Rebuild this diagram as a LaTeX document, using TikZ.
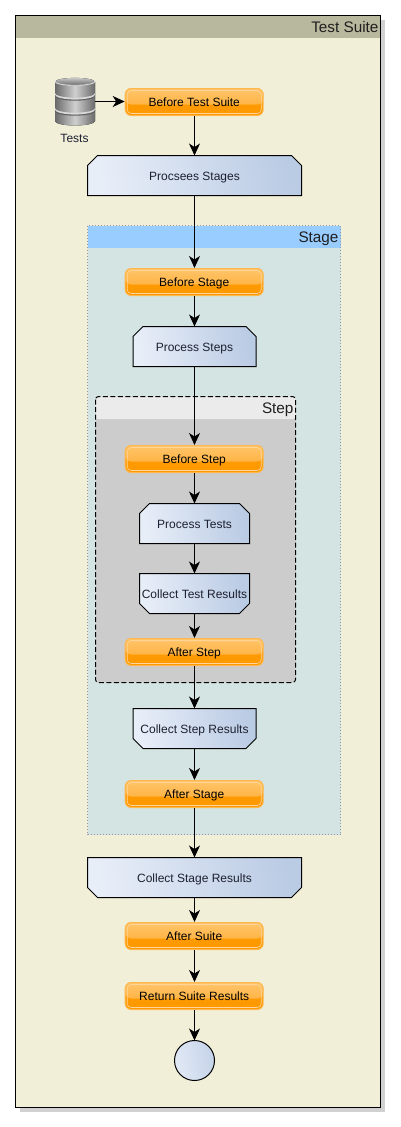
\documentclass[tikz,border=0pt]{standalone}
\usepackage{fontspec}
\setmainfont{Liberation Sans}
\usetikzlibrary{arrows.meta,calc}
\definecolor{suitebg}{HTML}{F2EFD9}
\definecolor{suitehd}{HTML}{B8B89F}
\definecolor{stagebg}{HTML}{D4E4E2}
\definecolor{stagehd}{HTML}{99CCFF}
\definecolor{stephd}{HTML}{EBEBEB}
\definecolor{stepbg}{HTML}{CCCCCC}
\definecolor{orangemain}{HTML}{FF9900}
\definecolor{orangeline}{HTML}{FFB84D}
\definecolor{orangetop}{HTML}{FFC46B}
\definecolor{orangemid}{HTML}{FFAA2B}
\definecolor{orangein}{HTML}{FFD59A}
\definecolor{blueL}{HTML}{E8EEF8}
\definecolor{blueR}{HTML}{BACBE4}
\definecolor{dbdark}{HTML}{6A6A6A}
\definecolor{dblight}{HTML}{CFCFCF}
\definecolor{inkc}{HTML}{1C2030}
\definecolor{dotc}{HTML}{8F98A8}
\tikzset{
  x=1pt,y=-1pt,
  lbl/.style={font=\fontsize{12}{14}\selectfont,text=inkc},
  glass/.style={rounded corners=6pt,minimum width=138pt,minimum height=27pt,inner sep=0pt,outer sep=.5pt,
    draw=orangeline,line width=1pt,fill=orangemain,font=\fontsize{12}{14}\selectfont,text=black,
    text height=11pt,text depth=3pt,
    path picture={
      \fill[top color=orangetop,bottom color=orangemid]
        (path picture bounding box.north west) rectangle ($(path picture bounding box.east)+(0,2.5)$);
      \draw[orangein,line width=.6pt,rounded corners=4pt]
        ($(path picture bounding box.north west)+(2,2)$) rectangle ($(path picture bounding box.south east)+(-2,-2)$);
    }},
  chamfshape/.style={draw=black,line width=1pt,left color=blueL,right color=blueR,shading angle=100},
  chamftext/.style={lbl,rectangle,minimum height=40pt,inner sep=0pt,outer sep=0pt,text height=12pt,text depth=3pt},
  flow/.style={draw=black,line width=1pt,-{Stealth[length=12pt,width=11pt,inset=3.5pt]}},
  title/.style={font=\fontsize{15.3}{17}\selectfont,text=black!88,anchor=east,inner sep=0pt,outer sep=0pt,text height=14pt,text depth=3pt},
}
% name, x, y, width, text
\newcommand\chamftop[5]{\begin{scope}[shift={(#2,#3)}]
  \pgfmathsetmacro\hw{#4/2}\pgfmathsetmacro\hi{#4/2-10}
  \path[chamfshape] (-\hw,20) -- (-\hw,-10) -- (-\hi,-20) -- (\hi,-20) -- (\hw,-10) -- (\hw,20) -- cycle;
  \node[chamftext,minimum width=#4pt] (#1) at (0,0) {#5};
\end{scope}}
\newcommand\chambot[5]{\begin{scope}[shift={(#2,#3)}]
  \pgfmathsetmacro\hw{#4/2}\pgfmathsetmacro\hi{#4/2-10}
  \path[chamfshape] (-\hw,-20) -- (-\hw,10) -- (-\hi,20) -- (\hi,20) -- (\hw,10) -- (\hw,-20) -- cycle;
  \node[chamftext,minimum width=#4pt] (#1) at (0,0) {#5};
\end{scope}}
\begin{document}
\begin{tikzpicture}[x=1pt,y=-1pt]
\useasboundingbox (0,0) rectangle (400,1127);
% suite
\fill[black!18] (19.5,19.5) rectangle (384.5,1111.5);
\fill[suitebg] (15.5,15.5) rectangle (380.5,1107.5);
\fill[suitehd] (15.5,15.5) rectangle (380.5,37.5);
\draw[black,line width=1pt] (15.5,15.5) rectangle (380.5,1107.5);
\node[title] (suitetitle) at (378.5,26.5) {Test Suite};
% stage
\fill[stagebg] (87.5,225.5) rectangle (340.5,834.5);
\fill[stagehd] (87.5,225.5) rectangle (340.5,247.5);
\draw[dotc,line width=.7pt,dash pattern=on 1pt off 2pt] (87.5,225.5) rectangle (340.5,834.5);
\node[title] (stagetitle) at (338.5,236.5) {Stage};
% step
\fill[stepbg,rounded corners=3pt] (95.5,396.5) rectangle (295.5,682.5);
\fill[stephd,rounded corners=3pt] (95.5,419) -- (95.5,396.5) -- (295.5,396.5) -- (295.5,419) [sharp corners] -- cycle;
\draw[black,line width=1pt,dash pattern=on 5pt off 2.5pt,rounded corners=3pt] (95.5,396.5) rectangle (295.5,682.5);
\node[title] (steptitle) at (293.5,408) {Step};
% database
\fill[left color=dbdark,right color=dbdark,middle color=dblight]
  (55,82) -- (55,121) arc[start angle=180,end angle=360,x radius=20,y radius=-4.5] -- (95,82) -- cycle;
\foreach \yy in {95,110}{
  \fill[white!85!black] (55,\yy) arc[start angle=180,end angle=360,x radius=20,y radius=-4.5]
     -- (95,\yy-1.8) arc[start angle=360,end angle=180,x radius=20,y radius=-4.5] -- cycle;
  \fill[black!62] (55,\yy+.1) arc[start angle=180,end angle=360,x radius=20,y radius=-4.5]
     -- (95,\yy+1.2) arc[start angle=360,end angle=180,x radius=20,y radius=-4.5] -- cycle;
}
\fill[top color=black!22,bottom color=black!58] (75,81.5) ellipse[x radius=19.5,y radius=3.6];
\draw[black!14,line width=.9pt] (55,81.5) arc[start angle=180,end angle=360,x radius=20,y radius=-3.8];
\coordinate (dbport) at (95,101.5);
\node[lbl,inner sep=0pt,text height=10pt,text depth=3pt] (dblabel) at (74.5,139) {Tests};
% nodes
\node[glass] (n1) at (194.2,102) {Before Test Suite};
\chamftop{n2}{194.5}{175.5}{214}{Procsees Stages}
\node[glass] (n3) at (194.2,282) {Before Stage};
\chamftop{n4}{194.5}{346.5}{123}{Process Steps}
\node[glass] (n5) at (194.2,459) {Before Step};
\chamftop{n6}{194.5}{523.5}{110}{Process Tests}
\chambot{n7}{194.5}{593.5}{110}{Collect Test Results}
\node[glass] (n8) at (194.2,652) {After Step};
\chambot{n9}{194.5}{728.5}{123}{Collect Step Results}
\node[glass] (n10) at (194.2,794) {After Stage};
\chambot{n11}{194.5}{877.5}{214}{Collect Stage Results}
\node[glass] (n12) at (194.2,936) {After Suite};
\node[glass] (n13) at (194.2,996) {Return Suite Results};
\node[circle,minimum size=40pt,inner sep=0pt,outer sep=0pt,draw=black,line width=1pt,left color=blueL!85!blueR,right color=blueR!75!blueL,shading angle=100] (n14) at (194.5,1060.5) {};
% connectors
\draw[flow] (dbport) -- (dbport -| n1.west);
\foreach \a/\b in {n1/n2,n2/n3,n3/n4,n4/n5,n5/n6,n6/n7,n7/n8,n8/n9,n9/n10,n10/n11,n11/n12,n12/n13,n13/n14}
  \draw[flow] (\a.south -| n14.center) -- (\b.north -| n14.center);
\end{tikzpicture}
\end{document}
